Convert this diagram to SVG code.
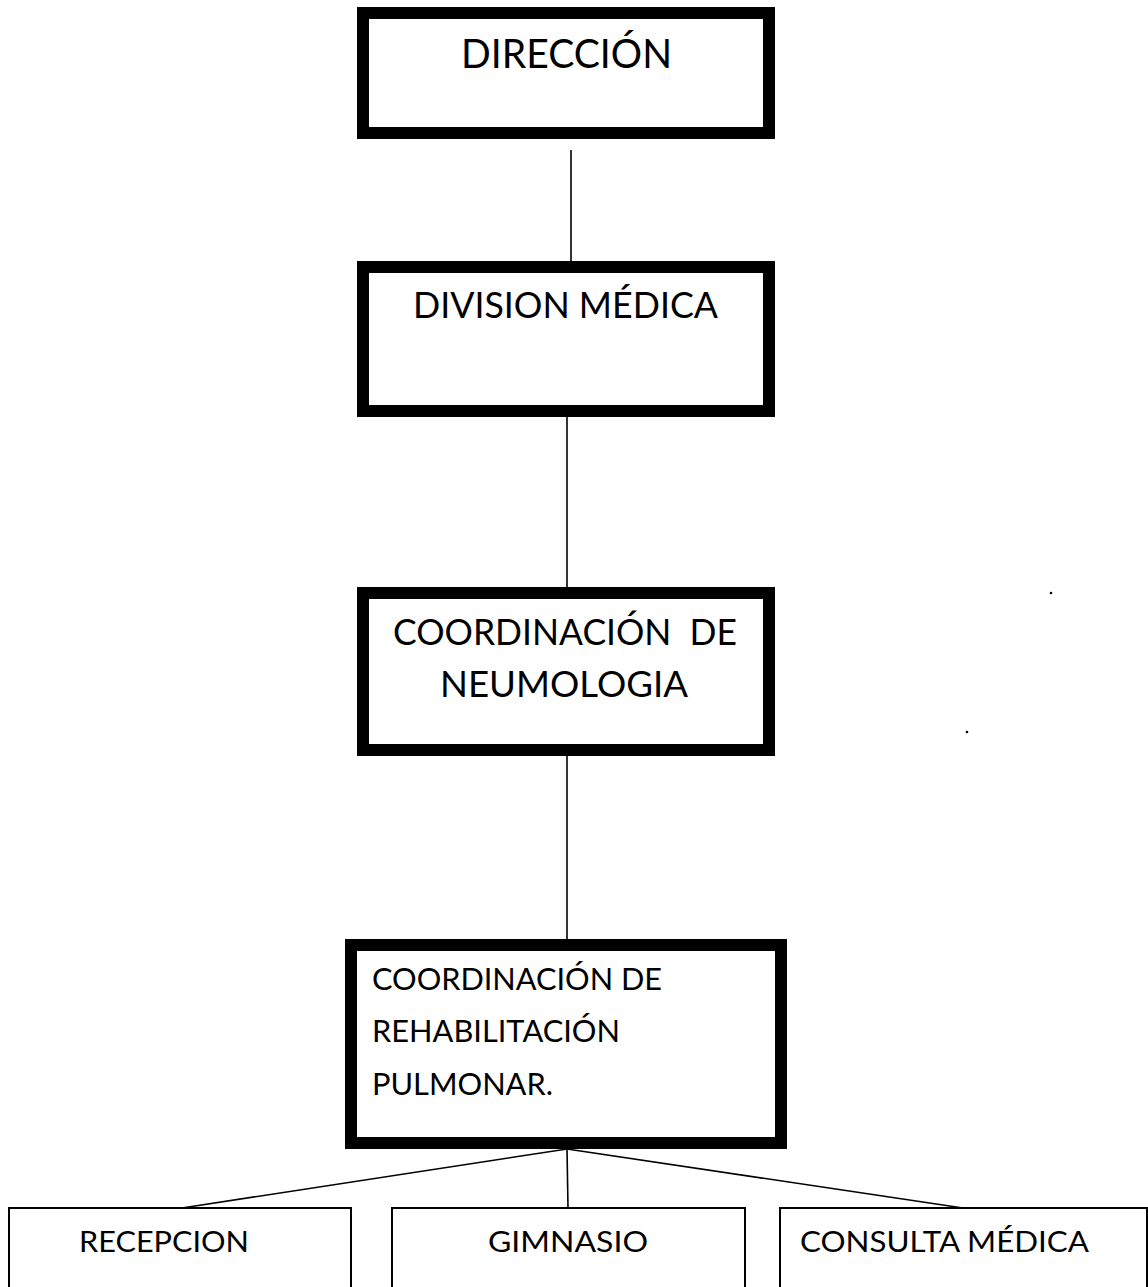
<svg xmlns="http://www.w3.org/2000/svg" width="1148" height="1287" viewBox="0 0 1148 1287">
<style>
.thick{fill:#fff;stroke:#000;stroke-width:12}
.thin{fill:#fff;stroke:#000;stroke-width:2}
.con line{stroke:#000;stroke-width:1.6}
text{font-family:Lato,"Open Sans","Liberation Sans",sans-serif;fill:#000}
</style>
<rect width="1148" height="1287" fill="#fff"/>
<g id="connectors" class="con">
<line x1="571" y1="150" x2="571" y2="262"/>
<line x1="567" y1="417" x2="567" y2="587"/>
<line x1="567" y1="756" x2="567" y2="939"/>
<line x1="567" y1="1149" x2="182" y2="1208"/>
<line x1="567" y1="1149" x2="568" y2="1208"/>
<line x1="567" y1="1149" x2="963" y2="1208"/>
</g>
<g id="direccion">
<rect class="thick" x="363" y="13" width="406" height="120"/>
<text x="461" y="68" font-size="40" textLength="211" lengthAdjust="spacingAndGlyphs">DIRECCIÓN</text>
</g>
<g id="division-medica">
<rect class="thick" x="363" y="267" width="406" height="144"/>
<text x="413" y="318" font-size="36" textLength="305" lengthAdjust="spacingAndGlyphs">DIVISION MÉDICA</text>
</g>
<g id="coord-neumologia">
<rect class="thick" x="363" y="593" width="406" height="157"/>
<text x="393" y="645" font-size="36" textLength="344" lengthAdjust="spacingAndGlyphs" xml:space="preserve">COORDINACIÓN  DE</text>
<text x="440" y="697" font-size="36" textLength="248" lengthAdjust="spacingAndGlyphs">NEUMOLOGIA</text>
</g>
<g id="coord-rehabilitacion">
<rect class="thick" x="351" y="945" width="430" height="198"/>
<text x="372" y="990" font-size="31" textLength="290" lengthAdjust="spacingAndGlyphs">COORDINACIÓN DE</text>
<text x="372" y="1042" font-size="31" textLength="248" lengthAdjust="spacingAndGlyphs">REHABILITACIÓN</text>
<text x="372" y="1095" font-size="31" textLength="181" lengthAdjust="spacingAndGlyphs">PULMONAR.</text>
</g>
<g id="recepcion">
<rect class="thin" x="9" y="1208" width="342" height="100"/>
<text x="79" y="1252" font-size="29" textLength="170" lengthAdjust="spacingAndGlyphs">RECEPCION</text>
</g>
<g id="gimnasio">
<rect class="thin" x="392" y="1208" width="353" height="100"/>
<text x="488" y="1252" font-size="29" textLength="160" lengthAdjust="spacingAndGlyphs">GIMNASIO</text>
</g>
<g id="consulta-medica">
<rect class="thin" x="780" y="1208" width="367" height="100"/>
<text x="800" y="1252" font-size="29" textLength="289" lengthAdjust="spacingAndGlyphs">CONSULTA MÉDICA</text>
</g>
<circle cx="1051" cy="593" r="1.3" fill="#000"/>
<circle cx="967" cy="732" r="1.3" fill="#000"/>
</svg>
